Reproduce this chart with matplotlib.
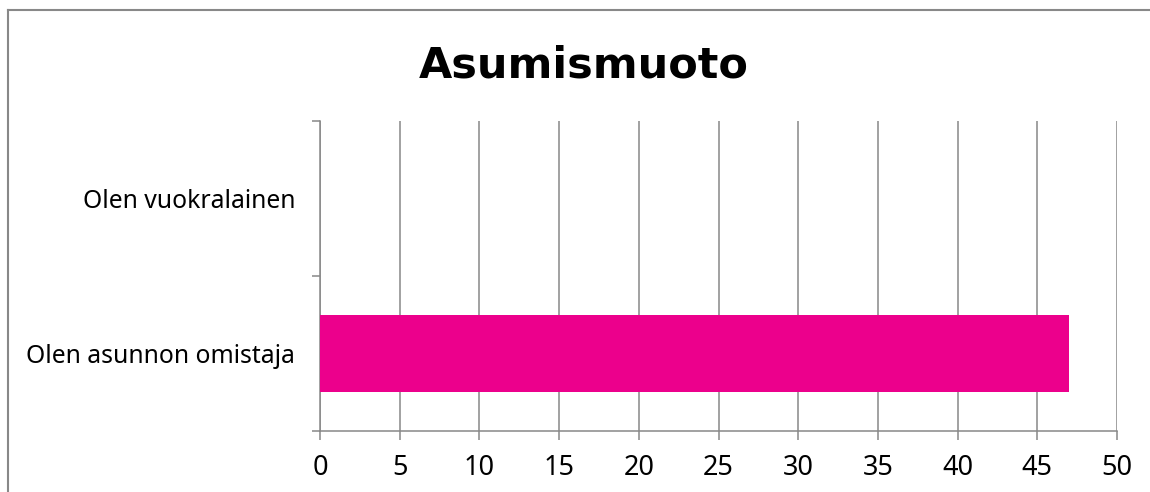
import matplotlib

matplotlib.use("Agg")

import matplotlib.pyplot as plt
from matplotlib.lines import Line2D

categories = ["Olen asunnon omistaja", "Olen vuokralainen"]
values = [47, 0]
x_ticks = [0, 5, 10, 15, 20, 25, 30, 35, 40, 45, 50]
title = "Asumismuoto"

bar_color = "#EC008C"
grid_color = "#888888"

plt.rcParams["font.family"] = ["Noto Sans", "DejaVu Sans"]

fig = plt.figure(figsize=(11.5, 4.92), dpi=100)
ax = fig.add_axes([0.2783, 0.124, 0.6930, 0.630])

positions = list(range(len(categories)))
ax.barh(positions, values, height=0.5, color=bar_color, zorder=3)

ax.set_xlim(0, 50)
ax.set_ylim(-0.5, len(categories) - 0.5)
ax.set_xticks(x_ticks)
ax.set_xticklabels([str(t) for t in x_ticks], fontsize=19.5)

# category labels sit between the tick marks
ax.set_yticks([p - 0.5 for p in positions] + [len(categories) - 0.5])
ax.set_yticklabels([])
ax.set_yticks(positions, minor=True)
ax.set_yticklabels(categories, minor=True, fontsize=17.8)
ax.tick_params(axis="y", which="minor", length=0, pad=18)
ax.tick_params(axis="y", which="major", length=6, width=1.1, color=grid_color)
ax.tick_params(axis="x", length=6.5, width=1.1, color=grid_color, pad=10)

ax.grid(axis="x", color=grid_color, linewidth=1.1, zorder=0)
for side in ["top", "right"]:
    ax.spines[side].set_visible(False)
for side in ["left", "bottom"]:
    ax.spines[side].set_color(grid_color)
    ax.spines[side].set_linewidth(1.1)

fig.text(0.508, 1 - 77 / 492, title, ha="center", va="baseline",
         fontsize=31, fontweight="bold", family="DejaVu Sans")

# outer chart border (only left and top edges are inside the image)
fig.add_artist(Line2D([8 / 1150, 8 / 1150], [0, 1 - 10 / 492],
                      transform=fig.transFigure, color=grid_color, linewidth=1.5))
fig.add_artist(Line2D([8 / 1150, 1], [1 - 10 / 492, 1 - 10 / 492],
                      transform=fig.transFigure, color=grid_color, linewidth=1.5))

fig.savefig("out.png", dpi=100)
